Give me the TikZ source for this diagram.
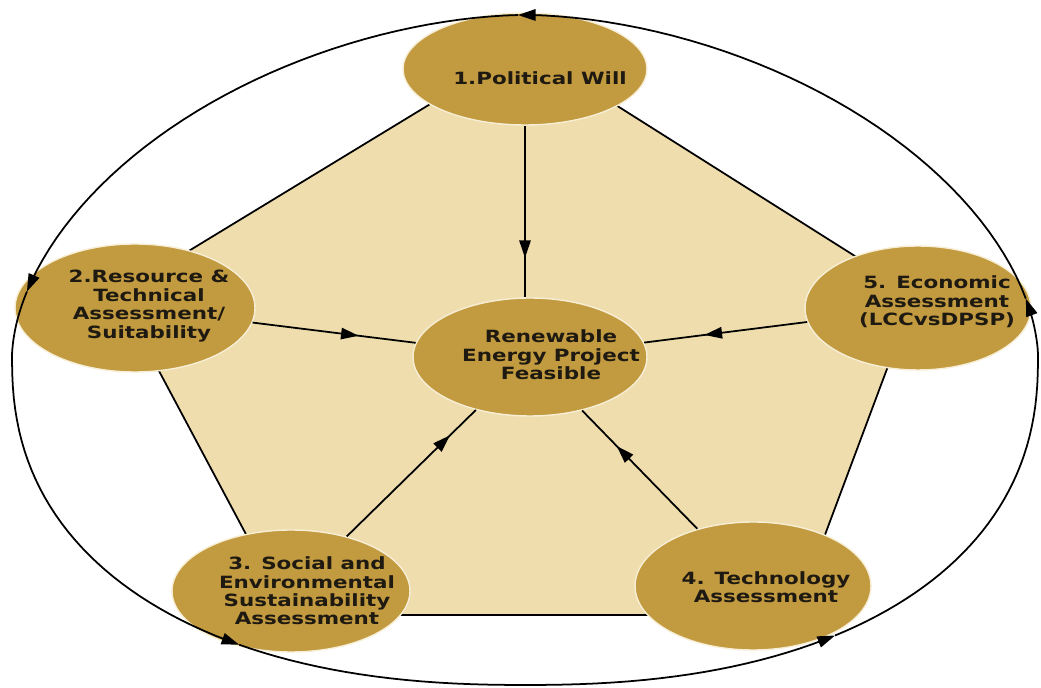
\documentclass[tikz,border=0pt]{standalone}
\usepackage{fontspec}
\newfontfamily\lbl[FakeStretch=1.27]{DejaVu Sans}
\usetikzlibrary{arrows.meta,decorations.markings,shapes.geometric,calc}
\definecolor{gold}{HTML}{C29A3F}
\definecolor{pent}{HTML}{EFDDAD}
\definecolor{ink}{HTML}{1E1A12}
\begin{document}
\begin{tikzpicture}[x=0.02cm,y=0.02cm,
  declare function={
    ux(\t)=525+513*cos(\t)*max(abs(cos(\t)),0.00001)^0.111;
    uy(\t)=-358+343*sin(\t)*max(abs(sin(\t)),0.00001)^0.111;
    lx(\t)=525+513*cos(\t)*max(abs(cos(\t)),0.00001)^(-0.13);
    ly(\t)=-358+327*sin(\t)*max(abs(sin(\t)),0.00001)^(-0.13);},
  bubble/.style={ellipse, fill=gold, draw=pent!50!white, line width=0.8pt, inner sep=0pt},
  txt/.style={font=\lbl\bfseries\fontsize{9.6}{10.5}\selectfont, text=ink, align=center, inner sep=0pt},
  spoke/.style={line width=1pt, postaction={decorate},
    decoration={markings, mark=at position #1 with {\arrow{Triangle[length=10pt,width=6.5pt]}}}},
  outer/.style={line width=1pt, -{Triangle[length=10pt,width=6.5pt]}}]
\useasboundingbox (0,0) rectangle (1041,-688);
\fill[white] (0,0) rectangle (1041,-688);
\clip (0,0) rectangle (1041,-688);
% pentagon
\coordinate (v1) at (524,-47);
\coordinate (v2) at (118,-294);
\coordinate (v3) at (289,-615);
\coordinate (v4) at (795,-615);
\coordinate (v5) at (915,-294);
\draw[fill=pent, line width=1pt] (v1) -- (v2) -- (v3) -- (v4) -- (v5) -- cycle;
% nodes
\node[bubble, minimum width=4.88cm, minimum height=2.24cm] (n1) at (525,-69) {};
\node[bubble, minimum width=4.80cm, minimum height=2.56cm] (n2) at (135,-308) {};
\node[bubble, minimum width=4.76cm, minimum height=2.44cm] (n3) at (291,-591) {};
\node[bubble, minimum width=4.72cm, minimum height=2.56cm] (n4) at (753,-586) {};
\node[bubble, minimum width=4.52cm, minimum height=2.48cm] (n5) at (918,-308) {};
\node[bubble, minimum width=4.68cm, minimum height=2.36cm] (c) at (530,-357) {};
% texts
\node[txt] (t1) at (540,-78) {1.Political Will};
\node[txt] (t2) at (149,-306) {2.Resource \&\\Technical\\Assessment/\\Suitability};
\node[txt] (t3) at (307,-591) {3. Social and\\Environmental\\Sustainability\\Assessment};
\node[txt] (t4) at (766,-587) {4. Technology\\Assessment};
\node[txt] (t5) at (937,-302) {5. Economic\\Assessment\\(LCCvsDPSP)};
\node[txt] (tc) at (551,-355) {Renewable\\Energy Project\\Feasible};
% spokes
\draw[spoke=0.77] (n1.south) -- (n1.south |- c.north);
\draw[spoke=0.65] (n2) -- (c);
\draw[spoke=0.63] (n5) -- (c);
\draw[spoke=0.8] (n3) -- (c);
\draw[spoke=0.7] (n4) -- (c);
% outer cycle
\draw[outer] plot[domain=11.9:91.2, samples=40, variable=\t] ({ux(\t)},{uy(\t)});
\draw[outer] plot[domain=91.2:166.8, samples=40, variable=\t] ({ux(\t)},{uy(\t)});
\draw[outer] plot[domain=166.8:180, samples=12, variable=\t] ({ux(\t)},{uy(\t)})
  -- plot[domain=180:239.3, samples=36, variable=\t] ({lx(\t)},{ly(\t)});
\draw[outer] plot[domain=239.3:304.1, samples=40, variable=\t] ({lx(\t)},{ly(\t)});
\draw[outer] plot[domain=304.1:360, samples=36, variable=\t] ({lx(\t)},{ly(\t)})
  -- plot[domain=0:11.9, samples=12, variable=\t] ({ux(\t)},{uy(\t)});
\end{tikzpicture}
\end{document}
